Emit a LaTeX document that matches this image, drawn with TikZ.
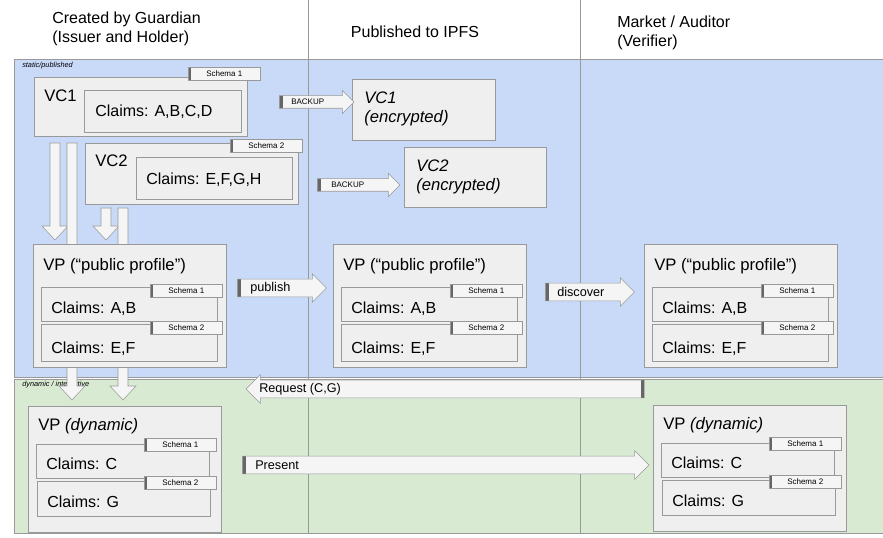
\documentclass[tikz,border=0pt]{standalone}
\usepackage{fontspec}
\setmainfont{Liberation Sans}
\usetikzlibrary{shapes.arrows,fit,positioning}
\definecolor{staticbg}{HTML}{C9DAF8}
\definecolor{dynbg}{HTML}{D9EAD3}
\definecolor{boxfill}{HTML}{EFEFEF}
\definecolor{boxline}{HTML}{999999}
\definecolor{tabbar}{HTML}{666666}
% block arrow pointing down: x, top, tip
\newcommand\dnarrow[3]{%
  \draw[boxline, fill=gray!8] (#1-5,#2) -- (#1+5,#2) -- (#1+5,#3-14) -- (#1+13,#3-14)
    -- (#1,#3) -- (#1-13,#3-14) -- (#1-5,#3-14) -- cycle;}
\begin{document}
\begin{tikzpicture}[
    x=0.75pt, y=-0.75pt,
    box/.style={rectangle, draw=boxline, fill=boxfill, inner sep=0pt},
    title/.style={anchor=north west, inner sep=0pt, font=\fontsize{12.5}{14}\selectfont},
    claim/.style={anchor=west, inner sep=0pt, font=\fontsize{12}{14}\selectfont},
    tab/.style={rectangle, draw=boxline, fill=gray!8, inner sep=0pt, anchor=north west,
        minimum width=54pt, minimum height=9.5pt, font=\fontsize{6}{7}\selectfont,
        path picture={\fill[tabbar] (path picture bounding box.south west) rectangle ([xshift=2pt]path picture bounding box.north west);}},
    band/.style={font=\fontsize{5.5}{6}\selectfont\itshape, anchor=north west, inner sep=0pt},
    head/.style={align=left, font=\fontsize{12}{14}\selectfont, inner sep=0pt},
    arrtext/.style={anchor=west, inner sep=0pt, font=\fontsize{9.5}{11}\selectfont},
    arr/.style={single arrow, draw=boxline, fill=gray!8, inner sep=6.5pt, anchor=west,
        single arrow head extend=4pt,
        path picture={\fill[tabbar] (path picture bounding box.south west) rectangle ([xshift=3pt]path picture bounding box.north west);}},
    larr/.style={single arrow, draw=boxline, fill=gray!8, inner sep=6.5pt, anchor=east, shape border rotate=180,
        single arrow head extend=4pt,
        path picture={\fill[tabbar] (path picture bounding box.south east) rectangle ([xshift=-3pt]path picture bounding box.north east);}}
]
\useasboundingbox (0,0) rectangle (883,538);

% bands and columns
\fill[staticbg] (14,59) rectangle (883,377);
\fill[dynbg] (14,379) rectangle (883,533);
\draw[boxline] (14,59) rectangle (883,377);
\draw[boxline] (14,379) rectangle (883,533);
\draw[boxline] (308,0) -- (308,533);
\draw[boxline] (580,0) -- (580,533);
\node[band] (static) at (22,62) {static/published};
\node[band] (dynamic) at (22,381) {dynamic / interactive};

% headers
\node[head, anchor=north west] (guardian) at (52,12) {Created by Guardian\\(Issuer and Holder)};
\node[head] (ipfs) at (415,32) {Published to IPFS};
\node[head, anchor=north west] (market) at (617,16) {Market / Auditor\\(Verifier)};

% down arrows (shafts pass behind the VP boxes)
\dnarrow{55}{143}{240}
\dnarrow{72}{143}{400}
\dnarrow{106}{208}{240}
\dnarrow{123}{208}{400}

% VC1 and VC2
\node[box, fit={(34,77) (247,136)}] (vc1) {};
\node[title] (vc1-t) at (44,90) {VC1};
\node[box, fit={(84,90) (241,132)}] (vc1-c) {};
\node[claim] (vc1-l) at (95,112) {Claims: A,B,C,D};
\node[tab] (vc1-s) at (188,67) {Schema 1};

\node[box, fit={(85,143) (298,204)}] (vc2) {};
\node[title] (vc2-t) at (95,155) {VC2};
\node[box, fit={(136,157) (292,199)}] (vc2-c) {};
\node[claim] (vc2-l) at (146,180) {Claims: E,F,G,H};
\node[tab] (vc2-s) at (230,139) {Schema 2};

% encrypted copies
\node[box, fit={(352,79) (495,140)}] (enc1) {};
\node[title, font=\fontsize{12.5}{14}\selectfont\itshape, align=left] (enc1-t) at (364,92) {VC1\\(encrypted)};
\node[box, fit={(404,147) (546,207)}] (enc2) {};
\node[title, font=\fontsize{12.5}{14}\selectfont\itshape, align=left] (enc2-t) at (416,160) {VC2\\(encrypted)};
\node[arr, minimum height=56pt, inner sep=4.5pt] (backup1) at (279,102) {};
\node[arrtext, font=\fontsize{6}{7}\selectfont] (backup1-t) at (291,102) {BACKUP};
\node[arr, minimum height=62pt, inner sep=4.5pt] (backup2) at (317,185) {};
\node[arrtext, font=\fontsize{6}{7}\selectfont] (backup2-t) at (331,185) {BACKUP};

% public profiles
\foreach \n/\x in {vpa/33, vpb/333, vpc/644}{
  \node[box, fit={(\x,244) (\x+193,367)}] (\n) {};
  \node[title] (\n-t) at (\x+10,258) {VP (“public profile”)};
  \node[box, fit={(\x+8,287) (\x+184,321)}] (\n-c1) {};
  \node[claim] (\n-l1) at (\x+18,309) {Claims: A,B};
  \node[tab] (\n-s1) at (\x+117,284) {Schema 1};
  \node[box, fit={(\x+8,324) (\x+184,361)}] (\n-c2) {};
  \node[claim] (\n-l2) at (\x+18,349) {Claims: E,F};
  \node[tab] (\n-s2) at (\x+117,321) {Schema 2};
}
\node[arr, minimum height=67pt] (publish) at (237,288) {};
\node[arrtext] (publish-t) at (250,288) {publish};
\node[arr, minimum height=67pt] (discover) at (545,292) {};
\node[arrtext] (discover-t) at (557,292) {discover};

% dynamic presentations
\foreach \n/\x/\y in {vpd/28/406, vpe/653/405}{
  \node[box, fit={(\x,\y) (\x+193,\y+126)}] (\n) {};
  \node[title] (\n-t) at (\x+10,\y+12) {VP \textit{(dynamic)}};
  \node[box, fit={(\x+8,\y+38) (\x+181,\y+72)}] (\n-c1) {};
  \node[claim] (\n-l1) at (\x+18,\y+58) {Claims: C};
  \node[tab] (\n-s1) at (\x+116,\y+32) {Schema 1};
  \node[box, fit={(\x+9,\y+75) (\x+182,\y+110)}] (\n-c2) {};
  \node[claim] (\n-l2) at (\x+19,\y+96) {Claims: G};
  \node[tab] (\n-s2) at (\x+116,\y+70) {Schema 2};
}
\node[larr, minimum height=299pt] (request) at (645,389) {};
\node[arrtext] (request-t) at (259,389) {Request (C,G)};
\node[arr, minimum height=305pt] (present) at (242,465) {};
\node[arrtext] (present-t) at (255,465) {Present};

\end{tikzpicture}
\end{document}
